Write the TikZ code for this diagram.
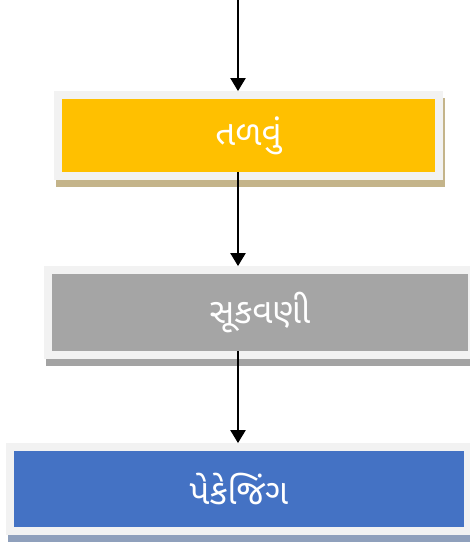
\documentclass[tikz,border=0pt]{standalone}
\usepackage{fontspec}
\newfontfamily\guj[Script=Gujarati]{Noto Sans Gujarati UI}
\usetikzlibrary{arrows.meta,fit,backgrounds}
\definecolor{frameclr}{HTML}{F2F2F2}
\definecolor{fryclr}{HTML}{FFC000}
\definecolor{dryclr}{HTML}{A5A5A5}
\definecolor{packclr}{HTML}{4472C4}
\definecolor{fryshade}{HTML}{C4B48A}
\definecolor{dryshade}{HTML}{A3A3A3}
\definecolor{packshade}{HTML}{8FA0BC}
\tikzset{
  stage/.style={draw=none, inner sep=0pt, text=white,
    font=\guj\fontsize{35}{42}\selectfont},
  framebox/.style={draw=none, fill=none, inner sep=7.5pt},
  flow/.style={line width=2.2pt, -{Triangle[width=15pt,length=13pt]}},
}
% drop shadow and light frame behind a stage
\newcommand{\stageframe}[2]{%
  \fill[#2] ([shift={(2pt,-7pt)}]#1.south west) rectangle ([shift={(2pt,-7pt)}]#1.north east);
  \fill[frameclr] (#1.south west) rectangle (#1.north east);}
\begin{document}
\begin{tikzpicture}[x=1pt,y=1pt]
\useasboundingbox (0,0) rectangle (470,-545);
% process stages
\node[stage, fill=fryclr, minimum width=373pt, minimum height=73pt] (fry) at (248.5,-135.5) {તળવું};
\node[stage, fill=dryclr, minimum width=416pt, minimum height=77pt] (dry) at (260,-312.5) {સૂકવણી};
\node[stage, fill=packclr, minimum width=450pt, minimum height=76pt] (pack) at (239,-489) {પેકેજિંગ};
\node[framebox, fit=(fry)] (fryframe) {};
\node[framebox, fit=(dry)] (dryframe) {};
\node[framebox, fit=(pack)] (packframe) {};
\begin{pgfonlayer}{background}
  \stageframe{fryframe}{fryshade}
  \stageframe{dryframe}{dryshade}
  \stageframe{packframe}{packshade}
\end{pgfonlayer}
% connectors
\coordinate (start) at (238,0);
\draw[flow] (start) -- (fryframe.north -| start);
\draw[flow] (fry.south -| start) -- (dryframe.north -| start);
\draw[flow] (dry.south -| start) -- (packframe.north -| start);
\end{tikzpicture}
\end{document}
